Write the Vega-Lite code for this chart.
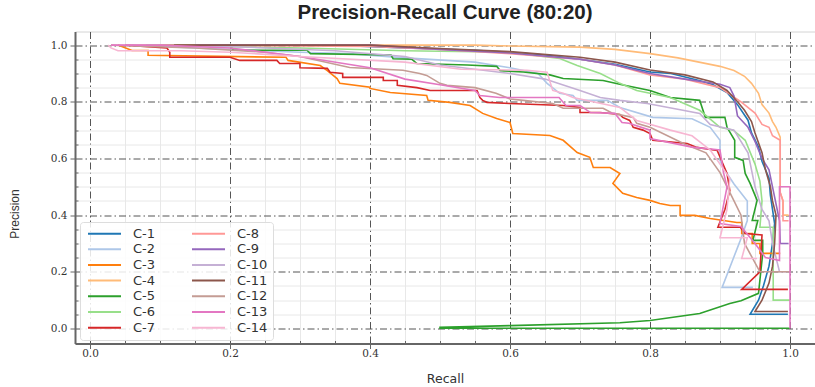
{
  "$schema": "https://vega.github.io/schema/vega-lite/v6.json",
  "width": 740,
  "height": 312,
  "autosize": {"type": "none"},
  "padding": {"left": 75, "top": 31.5, "right": 0, "bottom": 43.5},
  "background": "white",
  "title": {"text": "Precision-Recall Curve (80:20)", "font": "Liberation Sans", "fontSize": 20.5, "fontWeight": "bold", "color": "#222", "anchor": "middle", "frame": "group", "offset": 8},
  "config": {
    "view": {"stroke": "#d4d4d4", "strokeWidth": 1},
    "axis": {"domainColor": "#666", "domainWidth": 2, "tickColor": "#666", "labelColor": "#333", "titleColor": "#333", "titleFontWeight": "normal"}
  },
  "data": {"values": [
    {"s":"C-1","i":0,"x":0.08,"y":1.0},{"s":"C-1","i":1,"x":0.35,"y":1.0},{"s":"C-1","i":2,"x":0.45,"y":0.99},{"s":"C-1","i":3,"x":0.55,"y":0.982},{"s":"C-1","i":4,"x":0.6,"y":0.975},{"s":"C-1","i":5,"x":0.65,"y":0.965},{"s":"C-1","i":6,"x":0.7,"y":0.95},{"s":"C-1","i":7,"x":0.75,"y":0.932},{"s":"C-1","i":8,"x":0.8,"y":0.905},{"s":"C-1","i":9,"x":0.83,"y":0.9},{"s":"C-1","i":10,"x":0.87,"y":0.875},{"s":"C-1","i":11,"x":0.89,"y":0.86},{"s":"C-1","i":12,"x":0.91,"y":0.833},{"s":"C-1","i":13,"x":0.925,"y":0.79},{"s":"C-1","i":14,"x":0.94,"y":0.735},{"s":"C-1","i":15,"x":0.945,"y":0.69},{"s":"C-1","i":16,"x":0.955,"y":0.64},{"s":"C-1","i":17,"x":0.96,"y":0.59},{"s":"C-1","i":18,"x":0.965,"y":0.56},{"s":"C-1","i":19,"x":0.97,"y":0.53},{"s":"C-1","i":20,"x":0.972,"y":0.47},{"s":"C-1","i":21,"x":0.975,"y":0.42},{"s":"C-1","i":22,"x":0.978,"y":0.37},{"s":"C-1","i":23,"x":0.975,"y":0.3},{"s":"C-1","i":24,"x":0.97,"y":0.22},{"s":"C-1","i":25,"x":0.962,"y":0.15},{"s":"C-1","i":26,"x":0.955,"y":0.1},{"s":"C-1","i":27,"x":0.943,"y":0.05},{"s":"C-1","i":28,"x":0.997,"y":0.05},
    {"s":"C-2","i":0,"x":0.06,"y":1.0},{"s":"C-2","i":1,"x":0.15,"y":0.99},{"s":"C-2","i":2,"x":0.3,"y":0.975},{"s":"C-2","i":3,"x":0.37,"y":0.97},{"s":"C-2","i":4,"x":0.45,"y":0.955},{"s":"C-2","i":5,"x":0.55,"y":0.94},{"s":"C-2","i":6,"x":0.6,"y":0.92},{"s":"C-2","i":7,"x":0.64,"y":0.9},{"s":"C-2","i":8,"x":0.653,"y":0.865},{"s":"C-2","i":9,"x":0.671,"y":0.83},{"s":"C-2","i":10,"x":0.69,"y":0.822},{"s":"C-2","i":11,"x":0.696,"y":0.805},{"s":"C-2","i":12,"x":0.739,"y":0.805},{"s":"C-2","i":13,"x":0.757,"y":0.78},{"s":"C-2","i":14,"x":0.804,"y":0.745},{"s":"C-2","i":15,"x":0.86,"y":0.74},{"s":"C-2","i":16,"x":0.886,"y":0.71},{"s":"C-2","i":17,"x":0.9,"y":0.664},{"s":"C-2","i":18,"x":0.9,"y":0.593},{"s":"C-2","i":19,"x":0.91,"y":0.547},{"s":"C-2","i":20,"x":0.92,"y":0.51},{"s":"C-2","i":21,"x":0.939,"y":0.45},{"s":"C-2","i":22,"x":0.939,"y":0.381},{"s":"C-2","i":23,"x":0.929,"y":0.311},{"s":"C-2","i":24,"x":0.903,"y":0.145},{"s":"C-2","i":25,"x":0.947,"y":0.145},
    {"s":"C-3","i":0,"x":0.04,"y":1.0},{"s":"C-3","i":1,"x":0.06,"y":0.981},{"s":"C-3","i":2,"x":0.083,"y":0.981},{"s":"C-3","i":3,"x":0.083,"y":0.964},{"s":"C-3","i":4,"x":0.28,"y":0.957},{"s":"C-3","i":5,"x":0.283,"y":0.946},{"s":"C-3","i":6,"x":0.329,"y":0.928},{"s":"C-3","i":7,"x":0.339,"y":0.91},{"s":"C-3","i":8,"x":0.353,"y":0.882},{"s":"C-3","i":9,"x":0.357,"y":0.865},{"s":"C-3","i":10,"x":0.4,"y":0.851},{"s":"C-3","i":11,"x":0.4,"y":0.847},{"s":"C-3","i":12,"x":0.429,"y":0.833},{"s":"C-3","i":13,"x":0.481,"y":0.822},{"s":"C-3","i":14,"x":0.483,"y":0.805},{"s":"C-3","i":15,"x":0.514,"y":0.798},{"s":"C-3","i":16,"x":0.543,"y":0.787},{"s":"C-3","i":17,"x":0.561,"y":0.759},{"s":"C-3","i":18,"x":0.581,"y":0.741},{"s":"C-3","i":19,"x":0.6,"y":0.727},{"s":"C-3","i":20,"x":0.604,"y":0.688},{"s":"C-3","i":21,"x":0.657,"y":0.681},{"s":"C-3","i":22,"x":0.676,"y":0.664},{"s":"C-3","i":23,"x":0.696,"y":0.621},{"s":"C-3","i":24,"x":0.714,"y":0.604},{"s":"C-3","i":25,"x":0.719,"y":0.568},{"s":"C-3","i":26,"x":0.743,"y":0.568},{"s":"C-3","i":27,"x":0.757,"y":0.547},{"s":"C-3","i":28,"x":0.747,"y":0.512},{"s":"C-3","i":29,"x":0.761,"y":0.477},{"s":"C-3","i":30,"x":0.781,"y":0.462},{"s":"C-3","i":31,"x":0.8,"y":0.452},{"s":"C-3","i":32,"x":0.814,"y":0.441},{"s":"C-3","i":33,"x":0.829,"y":0.434},{"s":"C-3","i":34,"x":0.843,"y":0.434},{"s":"C-3","i":35,"x":0.843,"y":0.399},{"s":"C-3","i":36,"x":0.864,"y":0.399},{"s":"C-3","i":37,"x":0.886,"y":0.388},{"s":"C-3","i":38,"x":0.924,"y":0.374},{"s":"C-3","i":39,"x":0.931,"y":0.374},{"s":"C-3","i":40,"x":0.931,"y":0.335},{"s":"C-3","i":41,"x":0.946,"y":0.335},{"s":"C-3","i":42,"x":0.946,"y":0.3},{"s":"C-3","i":43,"x":0.957,"y":0.3},{"s":"C-3","i":44,"x":0.957,"y":0.265},{"s":"C-3","i":45,"x":0.986,"y":0.265},
    {"s":"C-4","i":0,"x":0.05,"y":1.0},{"s":"C-4","i":1,"x":0.55,"y":1.0},{"s":"C-4","i":2,"x":0.6,"y":0.997},{"s":"C-4","i":3,"x":0.7,"y":0.993},{"s":"C-4","i":4,"x":0.75,"y":0.985},{"s":"C-4","i":5,"x":0.8,"y":0.97},{"s":"C-4","i":6,"x":0.84,"y":0.955},{"s":"C-4","i":7,"x":0.87,"y":0.94},{"s":"C-4","i":8,"x":0.9,"y":0.925},{"s":"C-4","i":9,"x":0.92,"y":0.91},{"s":"C-4","i":10,"x":0.935,"y":0.89},{"s":"C-4","i":11,"x":0.945,"y":0.865},{"s":"C-4","i":12,"x":0.955,"y":0.83},{"s":"C-4","i":13,"x":0.96,"y":0.79},{"s":"C-4","i":14,"x":0.97,"y":0.76},{"s":"C-4","i":15,"x":0.975,"y":0.73},{"s":"C-4","i":16,"x":0.98,"y":0.71},{"s":"C-4","i":17,"x":0.986,"y":0.675},{"s":"C-4","i":18,"x":0.986,"y":0.48},{"s":"C-4","i":19,"x":0.99,"y":0.45},{"s":"C-4","i":20,"x":0.99,"y":0.4},{"s":"C-4","i":21,"x":0.998,"y":0.4},
    {"s":"C-5","i":0,"x":0.1,"y":1.0},{"s":"C-5","i":1,"x":0.2,"y":1.0},{"s":"C-5","i":2,"x":0.205,"y":0.982},{"s":"C-5","i":3,"x":0.31,"y":0.982},{"s":"C-5","i":4,"x":0.315,"y":0.97},{"s":"C-5","i":5,"x":0.43,"y":0.965},{"s":"C-5","i":6,"x":0.433,"y":0.952},{"s":"C-5","i":7,"x":0.46,"y":0.95},{"s":"C-5","i":8,"x":0.467,"y":0.935},{"s":"C-5","i":9,"x":0.539,"y":0.93},{"s":"C-5","i":10,"x":0.581,"y":0.925},{"s":"C-5","i":11,"x":0.586,"y":0.91},{"s":"C-5","i":12,"x":0.619,"y":0.905},{"s":"C-5","i":13,"x":0.657,"y":0.895},{"s":"C-5","i":14,"x":0.676,"y":0.882},{"s":"C-5","i":15,"x":0.733,"y":0.875},{"s":"C-5","i":16,"x":0.76,"y":0.86},{"s":"C-5","i":17,"x":0.8,"y":0.84},{"s":"C-5","i":18,"x":0.829,"y":0.815},{"s":"C-5","i":19,"x":0.871,"y":0.805},{"s":"C-5","i":20,"x":0.879,"y":0.745},{"s":"C-5","i":21,"x":0.907,"y":0.745},{"s":"C-5","i":22,"x":0.91,"y":0.71},{"s":"C-5","i":23,"x":0.921,"y":0.664},{"s":"C-5","i":24,"x":0.921,"y":0.604},{"s":"C-5","i":25,"x":0.933,"y":0.593},{"s":"C-5","i":26,"x":0.936,"y":0.547},{"s":"C-5","i":27,"x":0.943,"y":0.512},{"s":"C-5","i":28,"x":0.953,"y":0.452},{"s":"C-5","i":29,"x":0.946,"y":0.381},{"s":"C-5","i":30,"x":0.954,"y":0.381},{"s":"C-5","i":31,"x":0.947,"y":0.311},{"s":"C-5","i":32,"x":0.961,"y":0.311},{"s":"C-5","i":33,"x":0.961,"y":0.265},{"s":"C-5","i":34,"x":0.955,"y":0.124},{"s":"C-5","i":35,"x":0.93,"y":0.098},{"s":"C-5","i":36,"x":0.914,"y":0.088},{"s":"C-5","i":37,"x":0.871,"y":0.053},{"s":"C-5","i":38,"x":0.8,"y":0.028},{"s":"C-5","i":39,"x":0.757,"y":0.02},{"s":"C-5","i":40,"x":0.6,"y":0.01},{"s":"C-5","i":41,"x":0.5,"y":0.004},{"s":"C-5","i":42,"x":0.5,"y":0.001},{"s":"C-5","i":43,"x":1.0,"y":0.001},
    {"s":"C-6","i":0,"x":0.08,"y":1.0},{"s":"C-6","i":1,"x":0.3,"y":0.99},{"s":"C-6","i":2,"x":0.45,"y":0.98},{"s":"C-6","i":3,"x":0.6,"y":0.975},{"s":"C-6","i":4,"x":0.629,"y":0.965},{"s":"C-6","i":5,"x":0.671,"y":0.953},{"s":"C-6","i":6,"x":0.696,"y":0.928},{"s":"C-6","i":7,"x":0.729,"y":0.9},{"s":"C-6","i":8,"x":0.757,"y":0.865},{"s":"C-6","i":9,"x":0.781,"y":0.84},{"s":"C-6","i":10,"x":0.829,"y":0.815},{"s":"C-6","i":11,"x":0.871,"y":0.77},{"s":"C-6","i":12,"x":0.9,"y":0.71},{"s":"C-6","i":13,"x":0.919,"y":0.7},{"s":"C-6","i":14,"x":0.936,"y":0.664},{"s":"C-6","i":15,"x":0.95,"y":0.58},{"s":"C-6","i":16,"x":0.957,"y":0.52},{"s":"C-6","i":17,"x":0.96,"y":0.45},{"s":"C-6","i":18,"x":0.957,"y":0.357},{"s":"C-6","i":19,"x":0.976,"y":0.357},{"s":"C-6","i":20,"x":0.976,"y":0.1},{"s":"C-6","i":21,"x":1.0,"y":0.1},
    {"s":"C-7","i":0,"x":0.05,"y":1.0},{"s":"C-7","i":1,"x":0.11,"y":0.99},{"s":"C-7","i":2,"x":0.114,"y":0.975},{"s":"C-7","i":3,"x":0.114,"y":0.957},{"s":"C-7","i":4,"x":0.2,"y":0.957},{"s":"C-7","i":5,"x":0.214,"y":0.946},{"s":"C-7","i":6,"x":0.267,"y":0.946},{"s":"C-7","i":7,"x":0.271,"y":0.935},{"s":"C-7","i":8,"x":0.3,"y":0.935},{"s":"C-7","i":9,"x":0.3,"y":0.92},{"s":"C-7","i":10,"x":0.339,"y":0.918},{"s":"C-7","i":11,"x":0.343,"y":0.904},{"s":"C-7","i":12,"x":0.361,"y":0.9},{"s":"C-7","i":13,"x":0.361,"y":0.886},{"s":"C-7","i":14,"x":0.419,"y":0.886},{"s":"C-7","i":15,"x":0.419,"y":0.875},{"s":"C-7","i":16,"x":0.439,"y":0.875},{"s":"C-7","i":17,"x":0.439,"y":0.858},{"s":"C-7","i":18,"x":0.467,"y":0.85},{"s":"C-7","i":19,"x":0.486,"y":0.84},{"s":"C-7","i":20,"x":0.553,"y":0.84},{"s":"C-7","i":21,"x":0.557,"y":0.815},{"s":"C-7","i":22,"x":0.561,"y":0.805},{"s":"C-7","i":23,"x":0.567,"y":0.798},{"s":"C-7","i":24,"x":0.6,"y":0.794},{"s":"C-7","i":25,"x":0.676,"y":0.787},{"s":"C-7","i":26,"x":0.7,"y":0.78},{"s":"C-7","i":27,"x":0.7,"y":0.762},{"s":"C-7","i":28,"x":0.729,"y":0.762},{"s":"C-7","i":29,"x":0.757,"y":0.755},{"s":"C-7","i":30,"x":0.761,"y":0.745},{"s":"C-7","i":31,"x":0.771,"y":0.734},{"s":"C-7","i":32,"x":0.776,"y":0.71},{"s":"C-7","i":33,"x":0.79,"y":0.7},{"s":"C-7","i":34,"x":0.8,"y":0.688},{"s":"C-7","i":35,"x":0.804,"y":0.664},{"s":"C-7","i":36,"x":0.853,"y":0.653},{"s":"C-7","i":37,"x":0.867,"y":0.639},{"s":"C-7","i":38,"x":0.896,"y":0.628},{"s":"C-7","i":39,"x":0.91,"y":0.547},{"s":"C-7","i":40,"x":0.914,"y":0.487},{"s":"C-7","i":41,"x":0.907,"y":0.42},{"s":"C-7","i":42,"x":0.897,"y":0.357},{"s":"C-7","i":43,"x":0.929,"y":0.357},{"s":"C-7","i":44,"x":0.936,"y":0.335},{"s":"C-7","i":45,"x":0.96,"y":0.33},{"s":"C-7","i":46,"x":0.957,"y":0.2},{"s":"C-7","i":47,"x":0.931,"y":0.138},{"s":"C-7","i":48,"x":0.997,"y":0.138},
    {"s":"C-8","i":0,"x":0.1,"y":1.0},{"s":"C-8","i":1,"x":0.4,"y":0.995},{"s":"C-8","i":2,"x":0.5,"y":0.985},{"s":"C-8","i":3,"x":0.6,"y":0.97},{"s":"C-8","i":4,"x":0.7,"y":0.95},{"s":"C-8","i":5,"x":0.75,"y":0.93},{"s":"C-8","i":6,"x":0.8,"y":0.895},{"s":"C-8","i":7,"x":0.85,"y":0.88},{"s":"C-8","i":8,"x":0.9,"y":0.85},{"s":"C-8","i":9,"x":0.93,"y":0.8},{"s":"C-8","i":10,"x":0.95,"y":0.76},{"s":"C-8","i":11,"x":0.96,"y":0.72},{"s":"C-8","i":12,"x":0.97,"y":0.71},{"s":"C-8","i":13,"x":0.975,"y":0.68},{"s":"C-8","i":14,"x":0.986,"y":0.664},{"s":"C-8","i":15,"x":0.986,"y":0.48},{"s":"C-8","i":16,"x":0.99,"y":0.45},{"s":"C-8","i":17,"x":0.99,"y":0.38},{"s":"C-8","i":18,"x":0.998,"y":0.38},
    {"s":"C-9","i":0,"x":0.15,"y":1.0},{"s":"C-9","i":1,"x":0.4,"y":1.0},{"s":"C-9","i":2,"x":0.5,"y":0.985},{"s":"C-9","i":3,"x":0.6,"y":0.972},{"s":"C-9","i":4,"x":0.7,"y":0.95},{"s":"C-9","i":5,"x":0.75,"y":0.93},{"s":"C-9","i":6,"x":0.8,"y":0.9},{"s":"C-9","i":7,"x":0.85,"y":0.88},{"s":"C-9","i":8,"x":0.9,"y":0.862},{"s":"C-9","i":9,"x":0.914,"y":0.85},{"s":"C-9","i":10,"x":0.92,"y":0.82},{"s":"C-9","i":11,"x":0.925,"y":0.75},{"s":"C-9","i":12,"x":0.94,"y":0.71},{"s":"C-9","i":13,"x":0.95,"y":0.66},{"s":"C-9","i":14,"x":0.96,"y":0.6},{"s":"C-9","i":15,"x":0.97,"y":0.56},{"s":"C-9","i":16,"x":0.975,"y":0.5},{"s":"C-9","i":17,"x":0.98,"y":0.44},{"s":"C-9","i":18,"x":0.985,"y":0.38},{"s":"C-9","i":19,"x":0.986,"y":0.3},{"s":"C-9","i":20,"x":0.998,"y":0.3},
    {"s":"C-10","i":0,"x":0.05,"y":1.0},{"s":"C-10","i":1,"x":0.2,"y":0.995},{"s":"C-10","i":2,"x":0.35,"y":0.98},{"s":"C-10","i":3,"x":0.45,"y":0.96},{"s":"C-10","i":4,"x":0.5,"y":0.93},{"s":"C-10","i":5,"x":0.55,"y":0.915},{"s":"C-10","i":6,"x":0.6,"y":0.9},{"s":"C-10","i":7,"x":0.65,"y":0.88},{"s":"C-10","i":8,"x":0.7,"y":0.84},{"s":"C-10","i":9,"x":0.729,"y":0.815},{"s":"C-10","i":10,"x":0.757,"y":0.805},{"s":"C-10","i":11,"x":0.796,"y":0.794},{"s":"C-10","i":12,"x":0.847,"y":0.77},{"s":"C-10","i":13,"x":0.871,"y":0.759},{"s":"C-10","i":14,"x":0.886,"y":0.72},{"s":"C-10","i":15,"x":0.92,"y":0.7},{"s":"C-10","i":16,"x":0.94,"y":0.62},{"s":"C-10","i":17,"x":0.95,"y":0.5},{"s":"C-10","i":18,"x":0.96,"y":0.42},{"s":"C-10","i":19,"x":0.97,"y":0.38},{"s":"C-10","i":20,"x":0.975,"y":0.3},{"s":"C-10","i":21,"x":0.985,"y":0.2},{"s":"C-10","i":22,"x":1.0,"y":0.2},
    {"s":"C-11","i":0,"x":0.12,"y":1.0},{"s":"C-11","i":1,"x":0.4,"y":1.0},{"s":"C-11","i":2,"x":0.5,"y":0.988},{"s":"C-11","i":3,"x":0.6,"y":0.977},{"s":"C-11","i":4,"x":0.7,"y":0.957},{"s":"C-11","i":5,"x":0.75,"y":0.94},{"s":"C-11","i":6,"x":0.8,"y":0.912},{"s":"C-11","i":7,"x":0.85,"y":0.895},{"s":"C-11","i":8,"x":0.89,"y":0.87},{"s":"C-11","i":9,"x":0.91,"y":0.84},{"s":"C-11","i":10,"x":0.925,"y":0.8},{"s":"C-11","i":11,"x":0.935,"y":0.77},{"s":"C-11","i":12,"x":0.945,"y":0.73},{"s":"C-11","i":13,"x":0.95,"y":0.69},{"s":"C-11","i":14,"x":0.96,"y":0.62},{"s":"C-11","i":15,"x":0.965,"y":0.56},{"s":"C-11","i":16,"x":0.972,"y":0.5},{"s":"C-11","i":17,"x":0.975,"y":0.45},{"s":"C-11","i":18,"x":0.98,"y":0.4},{"s":"C-11","i":19,"x":0.978,"y":0.3},{"s":"C-11","i":20,"x":0.975,"y":0.22},{"s":"C-11","i":21,"x":0.97,"y":0.16},{"s":"C-11","i":22,"x":0.96,"y":0.1},{"s":"C-11","i":23,"x":0.95,"y":0.06},{"s":"C-11","i":24,"x":0.997,"y":0.06},
    {"s":"C-12","i":0,"x":0.03,"y":1.0},{"s":"C-12","i":1,"x":0.15,"y":0.99},{"s":"C-12","i":2,"x":0.25,"y":0.975},{"s":"C-12","i":3,"x":0.3,"y":0.96},{"s":"C-12","i":4,"x":0.371,"y":0.921},{"s":"C-12","i":5,"x":0.447,"y":0.911},{"s":"C-12","i":6,"x":0.471,"y":0.9},{"s":"C-12","i":7,"x":0.481,"y":0.893},{"s":"C-12","i":8,"x":0.5,"y":0.865},{"s":"C-12","i":9,"x":0.51,"y":0.858},{"s":"C-12","i":10,"x":0.55,"y":0.85},{"s":"C-12","i":11,"x":0.58,"y":0.83},{"s":"C-12","i":12,"x":0.6,"y":0.81},{"s":"C-12","i":13,"x":0.619,"y":0.805},{"s":"C-12","i":14,"x":0.661,"y":0.794},{"s":"C-12","i":15,"x":0.676,"y":0.777},{"s":"C-12","i":16,"x":0.733,"y":0.777},{"s":"C-12","i":17,"x":0.747,"y":0.759},{"s":"C-12","i":18,"x":0.776,"y":0.745},{"s":"C-12","i":19,"x":0.781,"y":0.724},{"s":"C-12","i":20,"x":0.8,"y":0.71},{"s":"C-12","i":21,"x":0.85,"y":0.65},{"s":"C-12","i":22,"x":0.88,"y":0.62},{"s":"C-12","i":23,"x":0.9,"y":0.55},{"s":"C-12","i":24,"x":0.92,"y":0.45},{"s":"C-12","i":25,"x":0.93,"y":0.4},{"s":"C-12","i":26,"x":0.935,"y":0.3},{"s":"C-12","i":27,"x":0.957,"y":0.2},{"s":"C-12","i":28,"x":1.0,"y":0.2},
    {"s":"C-13","i":0,"x":0.03,"y":1.0},{"s":"C-13","i":1,"x":0.1,"y":1.0},{"s":"C-13","i":2,"x":0.2,"y":0.99},{"s":"C-13","i":3,"x":0.3,"y":0.96},{"s":"C-13","i":4,"x":0.4,"y":0.92},{"s":"C-13","i":5,"x":0.45,"y":0.88},{"s":"C-13","i":6,"x":0.5,"y":0.86},{"s":"C-13","i":7,"x":0.55,"y":0.84},{"s":"C-13","i":8,"x":0.557,"y":0.822},{"s":"C-13","i":9,"x":0.585,"y":0.815},{"s":"C-13","i":10,"x":0.67,"y":0.815},{"s":"C-13","i":11,"x":0.68,"y":0.787},{"s":"C-13","i":12,"x":0.7,"y":0.787},{"s":"C-13","i":13,"x":0.715,"y":0.762},{"s":"C-13","i":14,"x":0.75,"y":0.759},{"s":"C-13","i":15,"x":0.76,"y":0.727},{"s":"C-13","i":16,"x":0.77,"y":0.724},{"s":"C-13","i":17,"x":0.8,"y":0.7},{"s":"C-13","i":18,"x":0.8,"y":0.67},{"s":"C-13","i":19,"x":0.86,"y":0.64},{"s":"C-13","i":20,"x":0.9,"y":0.63},{"s":"C-13","i":21,"x":0.905,"y":0.55},{"s":"C-13","i":22,"x":0.91,"y":0.5},{"s":"C-13","i":23,"x":0.9,"y":0.37},{"s":"C-13","i":24,"x":0.93,"y":0.36},{"s":"C-13","i":25,"x":0.95,"y":0.3},{"s":"C-13","i":26,"x":0.965,"y":0.25},{"s":"C-13","i":27,"x":0.985,"y":0.24},{"s":"C-13","i":28,"x":0.985,"y":0.5},{"s":"C-13","i":29,"x":1.0,"y":0.5},{"s":"C-13","i":30,"x":1.0,"y":0.0},
    {"s":"C-14","i":0,"x":0.026,"y":1.0},{"s":"C-14","i":1,"x":0.03,"y":0.99},{"s":"C-14","i":2,"x":0.04,"y":0.98},{"s":"C-14","i":3,"x":0.13,"y":0.98},{"s":"C-14","i":4,"x":0.2,"y":0.975},{"s":"C-14","i":5,"x":0.3,"y":0.96},{"s":"C-14","i":6,"x":0.45,"y":0.94},{"s":"C-14","i":7,"x":0.53,"y":0.915},{"s":"C-14","i":8,"x":0.624,"y":0.911},{"s":"C-14","i":9,"x":0.653,"y":0.904},{"s":"C-14","i":10,"x":0.661,"y":0.84},{"s":"C-14","i":11,"x":0.676,"y":0.83},{"s":"C-14","i":12,"x":0.69,"y":0.815},{"s":"C-14","i":13,"x":0.757,"y":0.78},{"s":"C-14","i":14,"x":0.781,"y":0.734},{"s":"C-14","i":15,"x":0.829,"y":0.7},{"s":"C-14","i":16,"x":0.86,"y":0.68},{"s":"C-14","i":17,"x":0.886,"y":0.63},{"s":"C-14","i":18,"x":0.9,"y":0.58},{"s":"C-14","i":19,"x":0.914,"y":0.53},{"s":"C-14","i":20,"x":0.91,"y":0.42},{"s":"C-14","i":21,"x":0.9,"y":0.32},{"s":"C-14","i":22,"x":0.939,"y":0.32},{"s":"C-14","i":23,"x":0.931,"y":0.247},{"s":"C-14","i":24,"x":0.953,"y":0.247}
  ]},
  "resolve": {"axis": {"x": "independent", "y": "independent"}},
  "layer": [
    {
      "mark": {"type": "point", "opacity": 0},
      "encoding": {
        "x": {"field": "x", "type": "quantitative", "scale": {"domain": [-0.0214, 1.0357], "nice": false, "zero": false},
          "axis": {"orient": "bottom", "values": [0.05,0.1,0.15,0.25,0.3,0.35,0.45,0.5,0.55,0.65,0.7,0.75,0.85,0.9,0.95], "grid": true, "gridColor": "#e8e8e8", "gridWidth": 1, "labels": false, "domain": false, "ticks": true, "tickSize": -3, "title": null}},
        "y": {"field": "y", "type": "quantitative", "scale": {"domain": [-0.053, 1.048], "nice": false, "zero": false},
          "axis": {"orient": "left", "values": [0.05,0.1,0.15,0.25,0.3,0.35,0.45,0.5,0.55,0.65,0.7,0.75,0.85,0.9,0.95], "grid": true, "gridColor": "#e8e8e8", "gridWidth": 1, "labels": false, "domain": false, "ticks": true, "tickSize": -3, "title": null}}
      }
    },
    {
      "mark": {"type": "line", "strokeWidth": 1.6, "interpolate": "linear"},
      "encoding": {
        "x": {"field": "x", "type": "quantitative", "scale": {"domain": [-0.0214, 1.0357], "nice": false, "zero": false},
          "axis": {"orient": "bottom", "values": [0,0.2,0.4,0.6,0.8,1.0], "format": ".1f", "grid": true, "gridColor": "#555", "gridWidth": 1, "gridDash": [7,3,1.5,3], "tickSize": 5, "labelFont": "DejaVu Serif", "labelFontSize": 10.5, "labelPadding": 0, "title": "Recall", "titleFont": "DejaVu Sans", "titleFontSize": 12.5, "titlePadding": 13}},
        "y": {"field": "y", "type": "quantitative", "scale": {"domain": [-0.053, 1.048], "nice": false, "zero": false},
          "axis": {"orient": "left", "values": [0,0.2,0.4,0.6,0.8,1.0], "format": ".1f", "grid": true, "gridColor": "#555", "gridWidth": 1, "gridDash": [7,3,1.5,3], "tickSize": 5, "labelFont": "DejaVu Serif", "labelFontSize": 10.5, "labelPadding": 3, "title": "Precision", "titleFont": "Liberation Sans", "titleFontSize": 12, "titleX": -61, "titleY": 182, "titleAlign": "center", "titleBaseline": "middle"}},
        "color": {"field": "s", "type": "nominal", "title": null,
          "scale": {"domain": ["C-1","C-2","C-3","C-4","C-5","C-6","C-7","C-8","C-9","C-10","C-11","C-12","C-13","C-14"],
                    "range": ["#1f77b4","#aec7e8","#ff7f0e","#ffbb78","#2ca02c","#98df8a","#d62728","#ff9896","#9467bd","#c5b0d5","#8c564b","#c49c94","#e377c2","#f7b6d2"]},
          "legend": {"orient": "none", "legendX": 5, "legendY": 190.5, "columns": 2, "symbolType": "M-0.636,0H5.364", "symbolSize": 121, "symbolStrokeWidth": 2, "labelFont": "DejaVu Sans", "labelFontSize": 13, "labelColor": "#333", "labelOffset": 35, "rowPadding": 1.7, "columnPadding": 32, "padding": 5, "fillColor": "rgba(255,255,255,0.85)", "strokeColor": "#dddddd", "cornerRadius": 3}},
        "order": {"field": "i", "type": "quantitative"}
      }
    }
  ]
}
